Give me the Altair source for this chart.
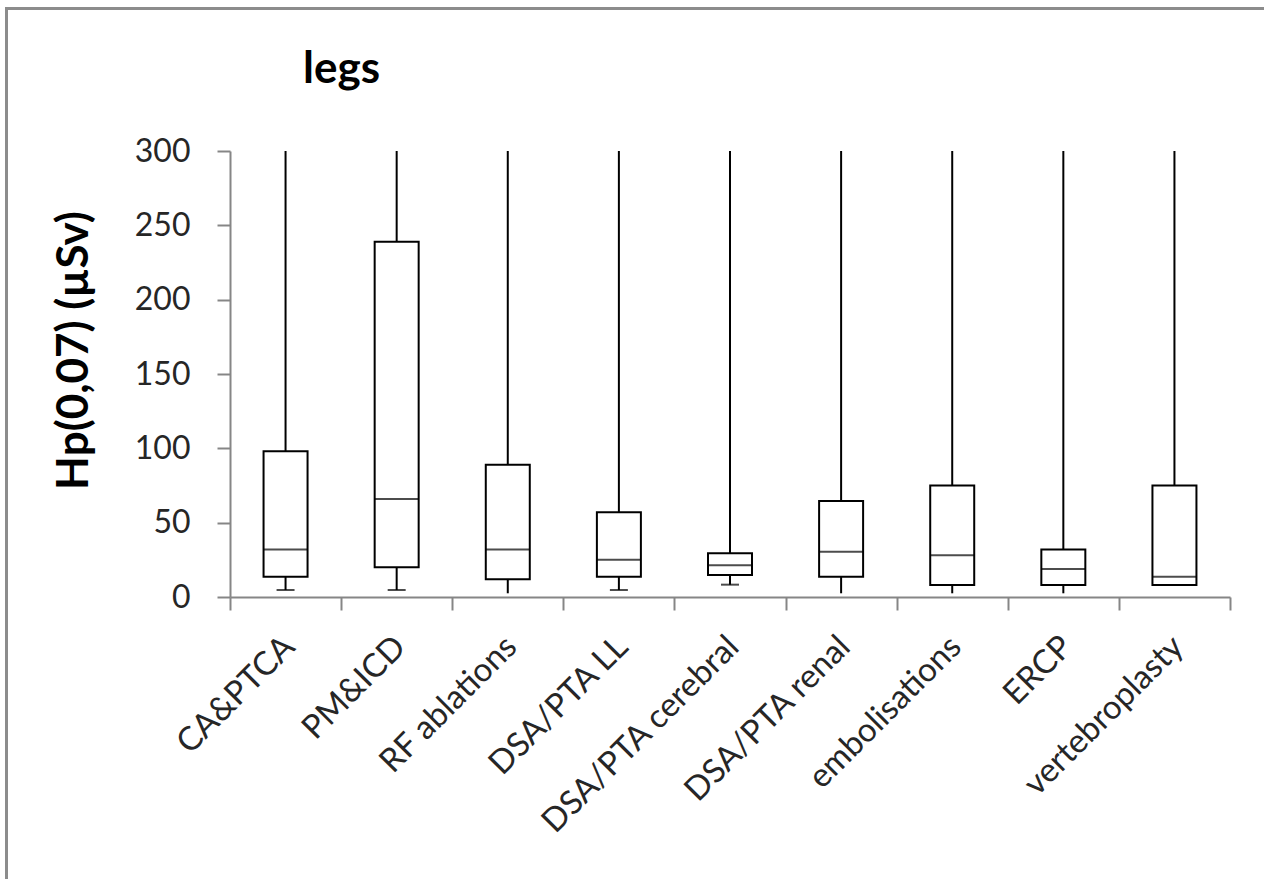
import altair as alt
import pandas as pd

chart_title = "legs"
categories = ["CA&PTCA", "PM&ICD", "RF ablations", "DSA/PTA LL", "DSA/PTA cerebral",
              "DSA/PTA renal", "embolisations", "ERCP", "vertebroplasty"]
whisker_low = [4.7, 4.7, 2.5, 4.7, 8.3, 2.5, 2.5, 2.5, 8.0]
quartile_1 = [13.7, 20.0, 12.0, 13.7, 14.8, 13.7, 8.0, 8.0, 8.0]
median = [32.0, 66.0, 32.0, 25.0, 21.3, 30.5, 28.0, 18.8, 13.7]
quartile_3 = [98.0, 239.0, 89.0, 57.0, 29.4, 64.5, 75.0, 32.0, 75.0]
# upper whiskers run off the top of the axis (clipped at 300)
whisker_high = [300, 300, 300, 300, 300, 300, 300, 300, 300]
y_ticks = [0, 50, 100, 150, 200, 250, 300]

df = pd.DataFrame({
    "cat": categories, "low": whisker_low, "q1": quartile_1,
    "med": median, "q3": quartile_3, "high": whisker_high,
})

AXIS_GREY = "#868686"
FONT = "Lato"

x_enc = alt.X(
    "cat:N", sort=categories,
    scale=alt.Scale(paddingInner=0, paddingOuter=0),
    axis=alt.Axis(
        title=None, labelAngle=-45, tickBand="extent", tickSize=13,
        labelPadding=20, labelOffset=-8, labelFont=FONT, labelFontSize=33,
        labelColor="#262626", domainColor=AXIS_GREY, tickColor=AXIS_GREY,
        domainWidth=2, tickWidth=2, grid=False, labelOverlap=False,
        labelLimit=0,
    ),
)
y_scale = alt.Scale(domain=[0, 300], nice=False)
y_axis = alt.Axis(
    values=y_ticks, title="Hp(0,07) (µSv)", titleFont=FONT, titleFontSize=44,
    titleFontWeight="bold", titleColor="#000000", titleAngle=270,
    titleX=-156, titleY=199, titleAlign="center", titleBaseline="middle",
    labelFont=FONT, labelFontSize=32, labelColor="#262626", labelPadding=27,
    tickSize=13, tickColor=AXIS_GREY, domainColor=AXIS_GREY,
    domainWidth=2, tickWidth=2, grid=False,
)

base = alt.Chart(df)

upper = base.mark_rule(color="#000", strokeWidth=2, clip=True).encode(
    x=x_enc, y=alt.Y("q3:Q", scale=y_scale, axis=y_axis), y2="high:Q")
lower = base.mark_rule(color="#000", strokeWidth=2).encode(
    x=x_enc, y=alt.Y("low:Q", scale=y_scale, axis=y_axis), y2="q1:Q")
box = base.mark_bar(fill="white", stroke="#000", strokeWidth=2, size=44).encode(
    x=x_enc, y=alt.Y("q1:Q", scale=y_scale, axis=y_axis), y2="q3:Q")
med = base.mark_tick(color="#000", thickness=2, size=44).encode(
    x=x_enc, y=alt.Y("med:Q", scale=y_scale, axis=y_axis))
cap = base.transform_filter(
    "datum.low > 3 && datum.low < datum.q1"
).mark_tick(color="#000", thickness=2, size=18).encode(
    x=x_enc, y=alt.Y("low:Q", scale=y_scale, axis=y_axis))

one_row = alt.Data(values=[{"t": chart_title}])
title_mark = alt.Chart(one_row).mark_text(
    font=FONT, fontSize=44, fontWeight="bold", color="#000000",
    align="left", baseline="alphabetic",
).encode(x=alt.value(73), y=alt.value(-68), text="t:N")
# picture frame: only its left and top edges fall inside the picture
frame_left = alt.Chart(one_row).mark_rule(color="#8c8c8c", strokeWidth=3).encode(
    x=alt.value(-223.5), y=alt.value(-144), y2=alt.value(728))
frame_top = alt.Chart(one_row).mark_rule(color="#8c8c8c", strokeWidth=3).encode(
    x=alt.value(-225), x2=alt.value(1034), y=alt.value(-142.5))

chart = alt.layer(upper, lower, box, med, cap, title_mark, frame_left, frame_top).properties(
    width=1000, height=446,
    autosize=alt.AutoSizeParams(type="none"),
    padding={"left": 230, "top": 151, "right": 34, "bottom": 283},
    background="white",
).configure_view(strokeWidth=0)

chart.save("out.html", embed_options={"renderer": "svg", "actions": False})
